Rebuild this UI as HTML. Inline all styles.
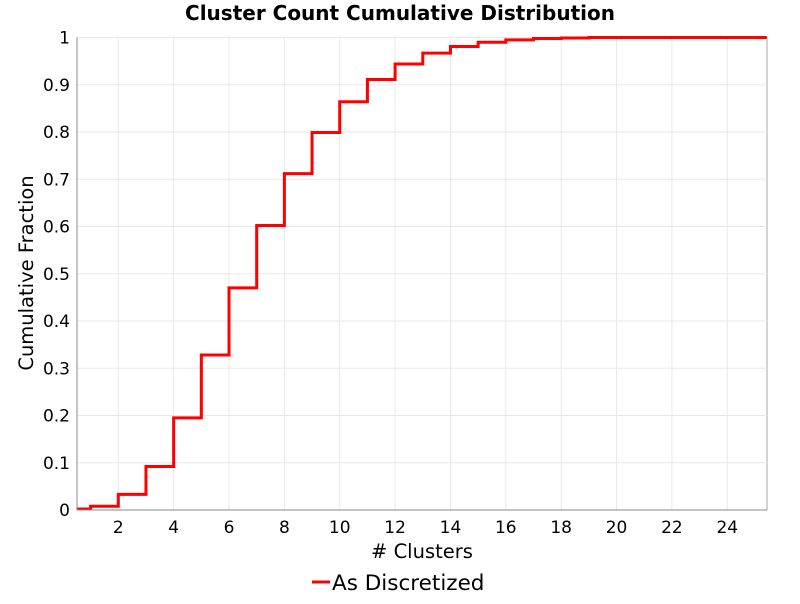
<!DOCTYPE html>
<html><head><meta charset="utf-8"><style>
body{margin:0;background:#fff;font-family:"DejaVu Sans","Liberation Sans",sans-serif}
</style></head><body>
<svg width="800" height="600" xmlns="http://www.w3.org/2000/svg">
<text x="400" y="20" text-anchor="middle" font-size="20" font-weight="bold">Cluster Count Cumulative Distribution</text>
<rect x="77" y="37.5" width="690" height="472.5" fill="#fff" stroke="#aaa"/>
<g id="grid"></g><g id="ticks"></g>
<path id="line" fill="none" stroke="#f00" stroke-width="3"/>
<line x1="77" y1="37.5" x2="77" y2="510" stroke="#888"/>
<line x1="77" y1="510" x2="767" y2="510" stroke="#888"/>
<text x="422" y="558" text-anchor="middle" font-size="19.5"># Clusters</text>
<text transform="translate(33,273) rotate(-90)" text-anchor="middle" font-size="19.5">Cumulative Fraction</text>
<line x1="312" y1="582" x2="330" y2="582" stroke="#f00" stroke-width="3"/>
<text x="332" y="590" font-size="21.5">As Discretized</text>
</svg>
<script>
const xs=[0.5,1,2,3,4,5,6,7,8,9,10,11,12,13,14,15,16,17,18,19,20,25.43];
const ys=[0.002,0.008,0.033,0.092,0.195,0.328,0.470,0.602,0.712,0.799,0.864,0.911,0.944,0.967,0.981,0.990,0.995,0.998,0.999,1.0,1.0,1.0];
const xTicks=[2,4,6,8,10,12,14,16,18,20,22,24];
const yTicks=[0,0.1,0.2,0.3,0.4,0.5,0.6,0.7,0.8,0.9,1];
const X=v=>118.3+(v-2)*27.68, Y=v=>510-v*472.5;
const ns="http://www.w3.org/2000/svg";
const g=document.getElementById('grid'),t=document.getElementById('ticks');
function mk(tag,a,p){const e=document.createElementNS(ns,tag);for(const k in a)e.setAttribute(k,a[k]);p.appendChild(e);return e;}
xTicks.forEach(v=>{const l=mk('line',{x1:X(v),x2:X(v),y1:37.5,y2:510,stroke:'#e8e8e8'},g);


const tx=mk('text',{x:X(v),y:533,'text-anchor':'middle','font-size':17},t);tx.textContent=v;

});
yTicks.forEach(v=>{const l=mk('line',{x1:77,x2:767,y1:Y(v),y2:Y(v),stroke:'#e8e8e8'},g);


const tx=mk('text',{x:70,y:Y(v)+6,'text-anchor':'end','font-size':17},t);tx.textContent=v;

});
let d='M'+X(xs[0])+','+Y(ys[0]);
for(let i=1;i<xs.length;i++){d+=' H'+X(xs[i])+' V'+Y(ys[i]);}
document.getElementById('line').setAttribute('d',d);
</script>
</body></html>
